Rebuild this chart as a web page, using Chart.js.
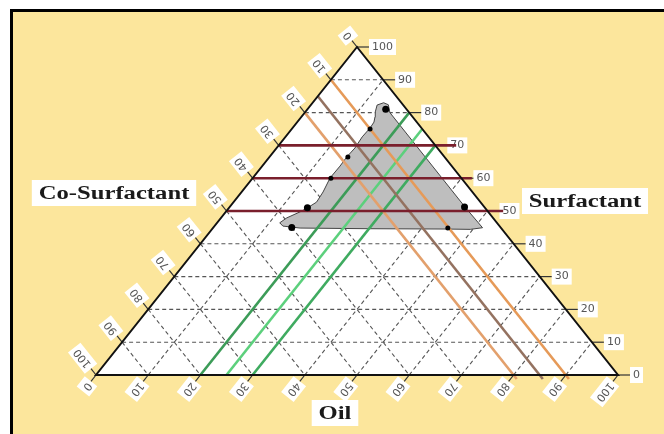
<!DOCTYPE html>
<html>
<head>
<meta charset="utf-8">
<script src="https://cdn.jsdelivr.net/npm/chart.js@4.4.1/dist/chart.umd.min.js"></script>
<style>
  html, body { margin: 0; padding: 0; background: #fff; }
  #wrap { position: relative; width: 664px; height: 434px; }
</style>
</head>
<body>
<div id="wrap"><canvas id="phase"></canvas></div>
<script>
// ─── Pseudo-ternary phase diagram (Oil / Surfactant / Co-Surfactant) ───
const gridSteps = [10, 20, 30, 40, 50, 60, 70, 80, 90];
const axisTicks = [0, 10, 20, 30, 40, 50, 60, 70, 80, 90, 100];

// microemulsion region outline: % oil and % surfactant (co-surfactant = rest)
const regionOil  = [12.7, 13.6, 14.8, 16.3, 26.3, 36.3, 45.3, 51.6, 49.5, 44.8, 30.0, 16.7, 13.1, 12.0,
                    12.6, 14.2, 15.0, 15.9, 15.6, 14.8, 14.9, 14.8, 15.0, 14.7, 14.85, 14.7, 14.1, 13.4];
const regionSurf = [82.3, 83.0, 82.4, 80.0, 70.0, 60.0, 51.0, 44.9, 44.4, 44.5, 44.6, 44.8, 45.4, 46.4,
                    47.9, 49.7, 50.9, 52.7, 55.8, 60.1, 63.7, 66.5, 69.2, 72.6, 75.3, 77.1, 78.7, 80.2];

// formulation points on the region boundary
const pointOil  = [15, 15, 15, 15, 15, 15, 45, 45];
const pointSurf = [81, 75, 66.5, 60, 51, 45, 44.8, 51.2];
const pointSize = [3.5, 2.5, 2.5, 2.5, 3.5, 3.5, 2.5, 3.5];

// dilution lines
const oilLines       = [20, 25, 30];     // constant oil
const oilColors      = ['#3c9c58', '#5cd07c', '#3fab60'];
const coSurfLines    = [10, 15, 20];     // constant co-surfactant
const coSurfColors   = ['#e69a58', '#947260', '#e3a06c'];
const surfLines      = [70, 60, 50];     // constant surfactant
const surfLineOilEnd = [34, 42, 53];     // these run out past the right edge

// ternary (oil, surfactant) -> plot space
const tern = (oil, surf) => ({ x: oil + surf / 2, y: surf });

const datasets = [];

datasets.push({
    data: pointOil.map((o, i) => tern(o, pointSurf[i])),
    pointRadius: pointSize,
    pointBackgroundColor: '#000',
    pointBorderWidth: 0,
    showLine: false,
    order: 0
});

surfLines.forEach((s, i) => datasets.push({
    data: [tern(0, s), tern(surfLineOilEnd[i], s)],
    borderColor: '#7a1f2c', borderWidth: 2.6, order: 1
}));

coSurfLines.forEach((c, i) => datasets.push({
    data: [tern(0, 100 - c), tern(100 - c + 1.2, -1.2)],
    borderColor: coSurfColors[i], borderWidth: 2.6, order: 2
}));

oilLines.forEach((o, i) => datasets.push({
    data: [tern(o, 0), tern(o, 100 - o)],
    borderColor: oilColors[i], borderWidth: 2.6, order: 2
}));

const outline = regionOil.map((o, i) => tern(o, regionSurf[i]));
outline.push(outline[0]);
datasets.push({
    data: outline,
    borderColor: '#444',
    borderWidth: 1,
    backgroundColor: '#bebebe',
    fill: 'shape',
    order: 5
});

datasets.forEach(d => {
    d.showLine = d.showLine !== false;
    d.pointRadius = d.pointRadius || 0;
    d.clip = false;
    d.tension = 0;
});

function px(chart, oil, surf) {
    const p = tern(oil, surf);
    return { x: chart.scales.x.getPixelForValue(p.x), y: chart.scales.y.getPixelForValue(p.y) };
}

function unit(a, b) {
    const dx = b.x - a.x, dy = b.y - a.y, l = Math.hypot(dx, dy);
    return { x: dx / l, y: dy / l };
}

function labelWithPatch(ctx, text, x, y, angle) {
    ctx.save();
    ctx.translate(x, y);
    ctx.rotate(angle);
    const w = ctx.measureText(text).width;
    ctx.fillStyle = '#fff';
    ctx.fillRect(-3, -8, w + 6, 16);
    ctx.fillStyle = '#555';
    ctx.fillText(text, 0, 0);
    ctx.restore();
}

function title(ctx, text, x, y) {
    ctx.save();
    ctx.translate(x, y);
    ctx.scale(1.37, 1);
    ctx.font = 'bold 18px "Liberation Serif", "Times New Roman", serif';
    ctx.textAlign = 'center';
    ctx.textBaseline = 'middle';
    const w = ctx.measureText(text).width;
    ctx.fillStyle = '#fff';
    ctx.fillRect(-w / 2 - 5, -13, w + 10, 26);
    ctx.fillStyle = '#1a1a1a';
    ctx.fillText(text, 0, 1);
    ctx.restore();
}

// paper, triangle, dashed grid, ticks and axis labels
const backdrop = {
    id: 'backdrop',
    beforeDatasetsDraw(chart) {
        const ctx = chart.ctx, W = chart.width, H = chart.height;
        ctx.save();
        ctx.fillStyle = '#fff';
        ctx.fillRect(0, 0, W, H);
        ctx.fillStyle = '#fce69c';
        ctx.fillRect(11, 10, W - 11, H - 10);
        ctx.strokeStyle = '#000';
        ctx.lineWidth = 3;
        ctx.beginPath();
        ctx.moveTo(11.5, H);
        ctx.lineTo(11.5, 10.5);
        ctx.lineTo(W, 10.5);
        ctx.stroke();

        const top = px(chart, 0, 100), bl = px(chart, 0, 0), br = px(chart, 100, 0);

        title(ctx, 'Co-Surfactant', 114, 193);
        title(ctx, 'Surfactant', 585, 201);
        title(ctx, 'Oil', 335, 413);

        ctx.fillStyle = '#fff';
        ctx.beginPath();
        ctx.moveTo(top.x, top.y); ctx.lineTo(br.x, br.y); ctx.lineTo(bl.x, bl.y);
        ctx.closePath();
        ctx.fill();

        // dashed grid
        ctx.strokeStyle = '#555';
        ctx.lineWidth = 1.1;
        ctx.setLineDash([4, 3]);
        gridSteps.forEach(k => {
            const segs = [
                [px(chart, 0, k), px(chart, 100 - k, k)],
                [px(chart, k, 0), px(chart, k, 100 - k)],
                [px(chart, 0, 100 - k), px(chart, 100 - k, 0)]
            ];
            segs.forEach(([a, b]) => {
                ctx.beginPath(); ctx.moveTo(a.x, a.y); ctx.lineTo(b.x, b.y); ctx.stroke();
            });
        });
        ctx.setLineDash([]);

        // tick marks and labels
        ctx.font = '11px "DejaVu Sans", sans-serif';
        ctx.textBaseline = 'middle';
        ctx.textAlign = 'left';
        ctx.strokeStyle = '#333';
        ctx.lineWidth = 1.2;
        const upLeft = unit(br, top);     // along co-surfactant grid lines
        const downLeft = unit(top, bl);   // along oil grid lines
        const aUp = Math.atan2(upLeft.y, upLeft.x);
        const aDown = Math.atan2(downLeft.y, downLeft.x);

        axisTicks.forEach(v => {
            // Surfactant, right edge
            const r = px(chart, 100 - v, v);
            labelWithPatch(ctx, String(v), r.x + 15, r.y, 0);
            ctx.beginPath(); ctx.moveTo(r.x, r.y); ctx.lineTo(r.x + 12, r.y); ctx.stroke();

            // Co-Surfactant, left edge
            const l = px(chart, 0, 100 - v);
            labelWithPatch(ctx, String(v), l.x + upLeft.x * 11, l.y + upLeft.y * 11, aUp);
            ctx.beginPath(); ctx.moveTo(l.x, l.y); ctx.lineTo(l.x + upLeft.x * 8, l.y + upLeft.y * 8); ctx.stroke();

            // Oil, bottom edge
            const b = px(chart, v, 0);
            labelWithPatch(ctx, String(v), b.x + downLeft.x * 11, b.y + downLeft.y * 11, aDown);
            ctx.beginPath(); ctx.moveTo(b.x, b.y); ctx.lineTo(b.x + downLeft.x * 8, b.y + downLeft.y * 8); ctx.stroke();
        });
        ctx.restore();
    }
};

// triangle outline on top of the dilution lines
const edges = {
    id: 'edges',
    afterDatasetsDraw(chart) {
        const ctx = chart.ctx;
        const top = px(chart, 0, 100), bl = px(chart, 0, 0), br = px(chart, 100, 0);
        ctx.save();
        ctx.strokeStyle = '#111';
        ctx.lineWidth = 2;
        ctx.lineJoin = 'miter';
        ctx.beginPath();
        ctx.moveTo(top.x, top.y); ctx.lineTo(br.x, br.y); ctx.lineTo(bl.x, bl.y);
        ctx.closePath();
        ctx.stroke();
        ctx.restore();
    }
};

new Chart(document.getElementById('phase'), {
    type: 'scatter',
    data: { datasets },
    options: {
        responsive: true,
        maintainAspectRatio: false,
        animation: false,
        events: [],
        layout: { padding: { left: 96, right: 46, top: 47, bottom: 59 } },
        scales: {
            x: { type: 'linear', min: 0, max: 100, display: false },
            y: { type: 'linear', min: 0, max: 100, display: false }
        },
        plugins: { legend: { display: false }, tooltip: { enabled: false } }
    },
    plugins: [backdrop, edges]
});
</script>
</body>
</html>
